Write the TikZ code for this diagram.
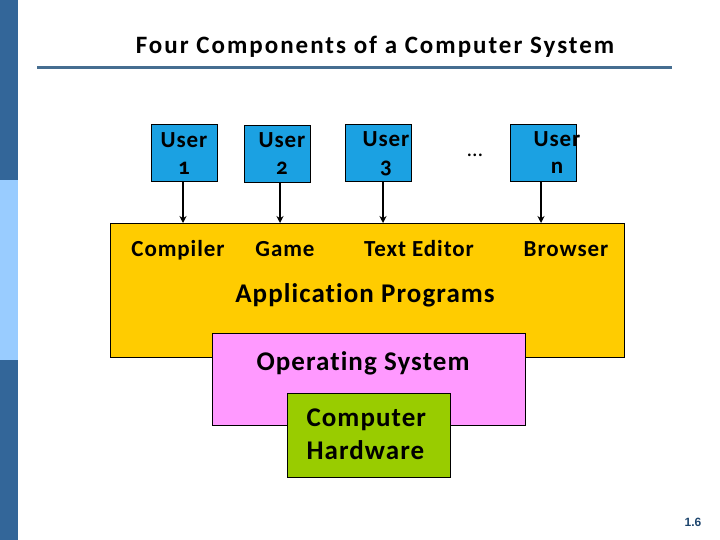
\documentclass[tikz,border=0pt]{standalone}
\usepackage{fontspec}
\setmainfont{Carlito}[LetterSpace=4,Ligatures=NoCommon]
\newfontfamily\titlefont{Carlito}[LetterSpace=8,Ligatures=NoCommon]
\newfontfamily\oldnum[Numbers=OldStyle,LetterSpace=4]{Carlito}
\newfontfamily\arialf{Liberation Sans}
\usetikzlibrary{arrows.meta}
\definecolor{barDark}{RGB}{51,102,153}
\definecolor{barLight}{RGB}{153,204,255}
\definecolor{rule}{RGB}{70,110,145}
\definecolor{userBlue}{RGB}{27,161,226}
\definecolor{appYellow}{RGB}{255,204,0}
\definecolor{osPink}{RGB}{255,153,255}
\definecolor{hwGreen}{RGB}{153,204,0}
\definecolor{pageNum}{RGB}{30,70,110}
\tikzset{
  userbox/.style={draw=black, line width=0.8pt, fill=userBlue, minimum width=66pt, minimum height=57pt, inner sep=0pt},
  usertext/.style={font=\bfseries\fontsize{23}{27}\selectfont, align=center},
  apptext/.style={font=\bfseries\fontsize{23}{24}\selectfont, anchor=base},
  bigtext/.style={font=\bfseries\fontsize{27}{28}\selectfont},
  userarrow/.style={line width=2.4pt, -{Stealth[length=7pt,width=7pt]}},
}
\begin{document}
\begin{tikzpicture}[x=1pt,y=-1pt]
\useasboundingbox (0,0) rectangle (720,540);
\fill[white] (0,0) rectangle (720,540);
% left bar
\fill[barDark] (0,0) rectangle (18,180);
\fill[barLight] (0,180) rectangle (18,360);
\fill[barDark] (0,360) rectangle (18,540);
% title
\node[font=\titlefont\bfseries\fontsize{25}{30}\selectfont] (title) at (375,47) {Four Components of a Computer System};
\draw[rule, line width=3pt] (37,68) -- (672,68);
% application box
\draw[line width=0.8pt, fill=appYellow] (110,223) rectangle (624,357);
\coordinate (a1) at (183,223);
\coordinate (a2) at (280,223);
\coordinate (a3) at (383,223);
\coordinate (an) at (541,223);
% users
\node[userbox] (u1) at (184,152.5) {};
\node[userbox] (u2) at (277.5,153.5) {};
\node[userbox] (u3) at (378.5,153) {};
\node[userbox] (un) at (543.5,152.5) {};
\node[usertext] (t1) at (184,154) {User\\{\oldnum 1}};
\node[usertext] (t2) at (282,154) {User\\{\oldnum 2}};
\node[usertext] (t3) at (386,154) {User\\{\oldnum 3}};
\node[usertext] (tn) at (557,153) {User\\n};
\node[font=\fontsize{22}{24}\selectfont] (dots) at (475,155) {\ldots};
\draw[userarrow] (u1.south -| a1) -- (a1);
\draw[userarrow] (u2.south -| a2) -- (a2);
\draw[userarrow] (u3.south -| a3) -- (a3);
\draw[userarrow] (un.south -| an) -- (an);
% app labels
\node[apptext] (comp) at (178,256) {Compiler};
\node[apptext] (game) at (285,256) {Game};
\node[apptext] (edit) at (419,256) {Text Editor};
\node[apptext] (brow) at (566,256) {Browser};
\node[bigtext] (app) at (365,295) {Application Programs};
% OS
\draw[line width=0.8pt, fill=osPink] (212,333) rectangle (525,425);
\node[bigtext] (os) at (363,363) {Operating System};
% hardware
\draw[line width=0.8pt, fill=hwGreen] (287,393) rectangle (450,477);
\node[align=left, anchor=west, font=\bfseries\fontsize{27}{33}\selectfont] (hw) at (303,434) {Computer\\Hardware};
% page number
\node[font=\arialf\bfseries\fontsize{12}{14}\selectfont, text=pageNum] (pg) at (693,522) {1.6};
\end{tikzpicture}
\end{document}
